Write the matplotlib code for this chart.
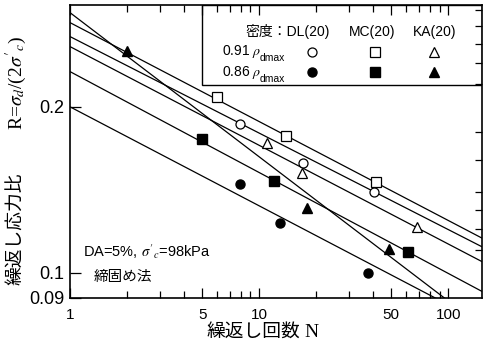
import numpy as np
import matplotlib
matplotlib.use("Agg")
import matplotlib.pyplot as plt
from matplotlib.ticker import FixedLocator, NullFormatter
from matplotlib.patches import Rectangle

plt.rcParams['font.family'] = ['Liberation Sans', 'Noto Sans CJK JP']
plt.rcParams['mathtext.fontset'] = 'stix'

# cyclic stress ratio vs number of cycles (DA=5%)
# 0.91 rho_dmax (open marks)
N_dl_91 = [7.9, 17.1, 40.6]
R_dl_91 = [0.186, 0.158, 0.140]
N_mc_91 = [6.0, 13.9, 41.6]
R_mc_91 = [0.208, 0.177, 0.146]
N_ka_91 = [11.0, 16.9, 68.6]
R_ka_91 = [0.172, 0.152, 0.121]
# 0.86 rho_dmax (filled marks)
N_dl_86 = [7.9, 12.9, 37.7]
R_dl_86 = [0.145, 0.123, 0.100]
N_mc_86 = [5.0, 12.0, 61.4]
R_mc_86 = [0.175, 0.147, 0.109]
N_ka_86 = [2.0, 17.9, 48.7]
R_ka_86 = [0.253, 0.131, 0.1105]

# fitted lines R = a * N**b
fit_a = [0.2843, 0.2682, 0.2572, 0.2317, 0.2964, 0.200]
fit_b = [-0.1794, -0.175, -0.179, -0.183, -0.2614, -0.1795]

x_ticks = [1, 5, 10, 50, 100]
y_ticks = [0.09, 0.1, 0.2]

fig = plt.figure(figsize=(4.84, 3.5), dpi=100)
ax = fig.add_axes([70/484, 52/350, 412/484, 293/350])
ax.set_xscale('log')
ax.set_yscale('log')
ax.set_xlim(1, 151)
ax.set_ylim(0.09, 0.306)

n = np.logspace(0, np.log10(151), 50)
for a, b in zip(fit_a, fit_b):
    ax.plot(n, a * n**b, color='black', lw=0.9)

open_kw = dict(ls='none', mfc='white', mec='black', mew=0.9, color='black')
fill_kw = dict(ls='none', color='black')
ax.plot(N_dl_91, R_dl_91, marker='o', ms=6.5, **open_kw)
ax.plot(N_mc_91, R_mc_91, marker='s', ms=6.5, **open_kw)
ax.plot(N_ka_91, R_ka_91, marker='^', ms=7, **open_kw)
ax.plot(N_dl_86, R_dl_86, marker='o', ms=6.5, **fill_kw)
ax.plot(N_mc_86, R_mc_86, marker='s', ms=6.5, **fill_kw)
ax.plot(N_ka_86, R_ka_86, marker='^', ms=7, **fill_kw)

# x ticks
ax.xaxis.set_major_locator(FixedLocator(x_ticks))
ax.set_xticklabels([str(v) for v in x_ticks])
ax.xaxis.set_minor_locator(FixedLocator([2, 3, 4, 6, 7, 8, 9, 20, 30, 40, 60, 70, 80, 90]))
ax.xaxis.set_minor_formatter(NullFormatter())

# y ticks: labelled on the left, fine ticks on the right
ax.yaxis.set_major_locator(FixedLocator(y_ticks))
ax.set_yticklabels([str(v) for v in y_ticks])
ax.yaxis.set_minor_locator(FixedLocator([0.1, 0.11, 0.12, 0.13, 0.14, 0.16, 0.18,
                                         0.2, 0.22, 0.24, 0.26, 0.28, 0.3]))
ax.yaxis.set_minor_formatter(NullFormatter())

ax.tick_params(axis='x', which='both', direction='in', top=True, bottom=True)
ax.tick_params(axis='x', which='major', length=7, width=0.9, labelsize=11, pad=7)
ax.tick_params(axis='x', which='minor', length=5, width=0.9)
ax.tick_params(axis='y', which='major', direction='in', left=True, right=False,
               length=8, width=0.9, labelsize=13, pad=4)
ax.tick_params(axis='y', which='minor', direction='in', left=False, right=True,
               length=5, width=0.9)
for s in ax.spines.values():
    s.set_linewidth(1.2)

# legend box
ax.add_patch(Rectangle((0.320, 0.727), 0.68, 0.273, transform=ax.transAxes,
                       fill=False, lw=1.0, color='black'))
ax.text(0.425, 0.908, '密度：DL(20)', transform=ax.transAxes, fontsize=10,
        ha='left', va='center')
ax.text(0.733, 0.908, 'MC(20)', transform=ax.transAxes, fontsize=10, ha='center', va='center')
ax.text(0.886, 0.908, 'KA(20)', transform=ax.transAxes, fontsize=10, ha='center', va='center')
for yr, dens in zip([0.840, 0.771], ['0.91', '0.86']):
    ax.text(0.369, yr, dens + r' $\rho$', transform=ax.transAxes, fontsize=10,
            ha='left', va='center')
    ax.text(0.461, yr - 0.022, 'dmax', transform=ax.transAxes, fontsize=7.5,
            ha='left', va='center')
for xm, mk in zip([0.587, 0.740, 0.883], ['o', 's', '^']):
    ax.plot([xm], [0.840], marker=mk, ms=6.5, transform=ax.transAxes, clip_on=False, **open_kw)
    ax.plot([xm], [0.771], marker=mk, ms=6.5, transform=ax.transAxes, clip_on=False, **fill_kw)

ax.text(0.032, 0.157, r"DA=5%, $\sigma'_c$=98kPa", transform=ax.transAxes, fontsize=10.5,
        ha='left', va='center')
ax.text(0.058, 0.072, '締固め法', transform=ax.transAxes, fontsize=10.5,
        ha='left', va='center')

# axis titles
ax.text(0.445, -0.118, '繰返し回数', transform=ax.transAxes, fontsize=13.5,
        ha='center', va='center')
ax.text(0.585, -0.118, 'N', transform=ax.transAxes, fontsize=14,
        family='Liberation Serif', ha='center', va='center')
ax.text(-0.129, 0.237, '繰返し応力比', transform=ax.transAxes, fontsize=13.5,
        ha='center', va='center', rotation=90)
ax.text(-0.129, 0.735, r"R=$\sigma_d$/(2$\sigma'_c$)", transform=ax.transAxes, fontsize=14,
        family='Liberation Serif', ha='center', va='center', rotation=90)

fig.savefig('out.png', dpi=100)
